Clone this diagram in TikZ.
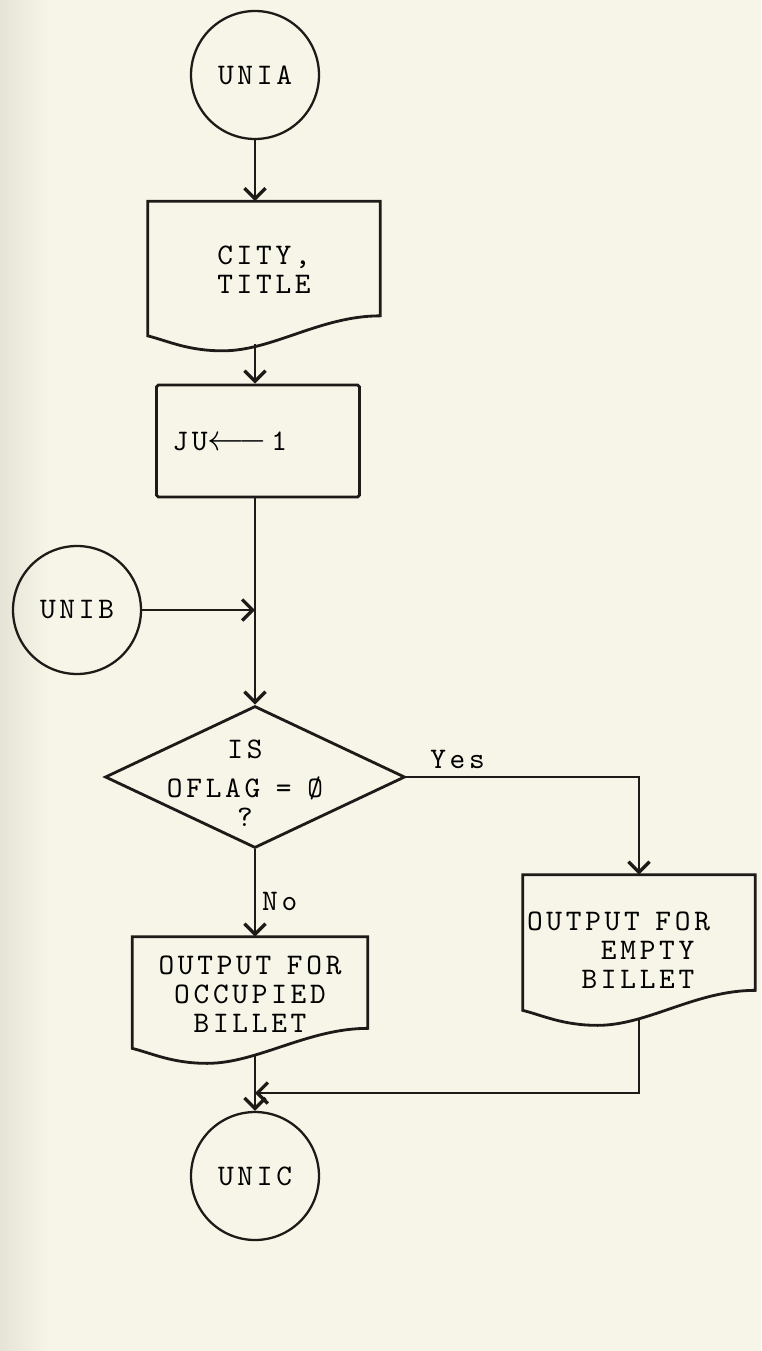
\documentclass[tikz,border=0pt]{standalone}
\usepackage{fontspec}
\newfontfamily\typefont{lmmono10-regular}[Extension=.otf,LetterSpace=12.5]
\usetikzlibrary{shapes.geometric,arrows.meta,calc}

\definecolor{paper}{RGB}{246,245,231}
\definecolor{ink}{RGB}{30,26,24}

\tikzset{
  terminal/.style={circle,draw=ink,line width=1.3pt,minimum size=2.56cm,inner sep=0pt},
  process/.style={rectangle,draw=ink,line width=1.6pt,rounded corners=1pt,align=left},
  decision/.style={diamond,draw=ink,line width=1.6pt,minimum width=6cm,minimum height=2.84cm,inner sep=0pt},
  document/.style={rectangle,inner sep=0pt,minimum width=4.64cm},
  flow/.style={draw=ink,line width=1.5pt,-{Straight Barb[length=6pt,width=12pt,line width=1.9pt]}},
}

% printed-output outline drawn round a node
\newcommand{\docframe}[1]{%
  \draw[ink,line width=1.6pt] (#1.north west) -- (#1.north east)
    -- ($(#1.south east)+(0,-35)$)
    .. controls +(-60,0) and +(50,0) .. ($(#1.south west)+(75,0)$)
    .. controls +(-35,0) and +(20,5) .. ($(#1.south west)+(0,-15)$) -- cycle;
  \coordinate (#1-out) at ($(#1.south)+(0,-7)$);}
\newcommand{\gap}{\hphantom{O}}

\begin{document}
\begin{tikzpicture}[x=0.02cm,y=-0.02cm,font=\typefont\fontsize{17}{16.5}\selectfont]
\fill[paper] (0,0) rectangle (761,1351);
\shade[left color=black!7!paper,right color=paper] (0,0) rectangle (50,1351);
\useasboundingbox (0,0) rectangle (761,1351);

% boxes
\node[terminal] (unia) at (255,75) {UNIA};
\node[document,minimum height=2.98cm,align=center,text depth=6.8pt] (city) at (264,276) {CITY,\\TITLE};
\node[process,minimum height=2.24cm,text width=3.42cm,inner xsep=0.32cm] (ju) at (258,441)
  {JU{\fontsize{20}{20}\selectfont$\longleftarrow$}\,1};
\node[terminal] (unib) at (77,610) {UNIB};
\node[decision] (test) at (255,777) {};
\node[align=center] (testtxt) at (245,783) {IS\\[6pt]OFLAG\gap=\gap Ø\\?};
\node[document,minimum height=2.52cm,align=center,minimum width=4.7cm,text depth=6.8pt] (occ) at (250,1000)
  {OUTPUT\gap FOR\\OCCUPIED\\BILLET};
\node[document,minimum height=3cm,align=left,text width=4.48cm,inner xsep=0.08cm] (empty) at (639,950)
  {OUTPUT\gap FOR\\\hphantom{OUTP}EMPTY\\\hphantom{OUT}BILLET};
\node[terminal] (unic) at (255,1176) {UNIC};
\coordinate (join) at (255,1093);

\docframe{city}
\docframe{occ}
\docframe{empty}

% connectors
\draw[flow] (unia) -- (unia |- city.north);
\draw[flow] (city-out -| unia) -- (ju.north -| unia);
\draw[flow] (ju.south -| unia) -- (test.north);
\draw[flow] (unib) -- (unib -| unia);
\draw[flow] (test.east) -- node[pos=0.22,above,inner sep=4pt] (yeslbl) {Yes} (test.east -| empty) -- (empty.north);
\draw[flow] (test.south) -- node[pos=0.6,right] (nolbl) {No} (test.south |- occ.north);
\draw[flow] (empty-out) |- (join);
\draw[flow] (occ-out -| unic) -- (unic);
\end{tikzpicture}
\end{document}
